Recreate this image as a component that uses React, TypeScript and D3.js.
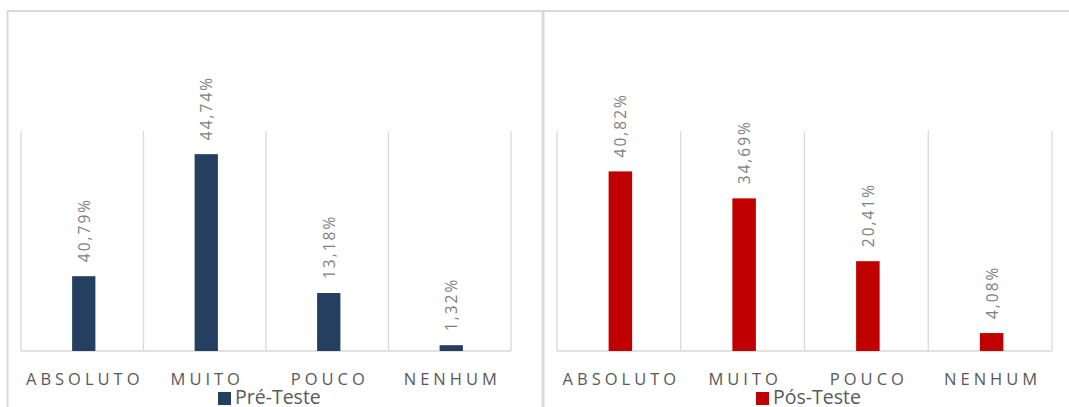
import React from "react";
import * as d3 from "d3";

const categories = ["ABSOLUTO", "MUITO", "POUCO", "NENHUM"];
// Bar heights as drawn in the picture (percent)
const preValues = [17.0, 44.74, 13.18, 1.32];
const preLabels = ["40,79%", "44,74%", "13,18%", "1,32%"];
const posValues = [40.82, 34.69, 20.41, 4.08];
const posLabels = ["40,82%", "34,69%", "20,41%", "4,08%"];
const seriesNames = ["Pré-Teste", "Pós-Teste"];
const seriesColors = ["#243F60", "#C00000"];
const yMax = 50;

const W = 1069;
const H = 407;
const FONT = "'Open Sans', 'Liberation Sans', sans-serif";

type PanelProps = {
  x0: number;
  x1: number;
  frameX: number;
  values: number[];
  labels: string[];
  color: string;
  name: string;
  legendX: number;
};

function Panel({ x0, x1, frameX, values, labels, color, name, legendX }: PanelProps) {
  const x = d3.scaleBand<string>().domain(categories).range([x0, x1]).paddingInner(0).paddingOuter(0);
  const y = d3.scaleLinear().domain([0, yMax]).range([351, 131]);
  const bw = x.bandwidth() * 0.19;
  const edges = [...categories.map((c) => x(c) as number), x1];
  return (
    <g>
      <rect x={frameX} y={11} width={535} height={500} fill="none" stroke="#d9d9d9" strokeWidth={2} />
      {edges.map((e, i) => (
        <line key={i} x1={e} x2={e} y1={y(yMax)} y2={y(0)} stroke="#d9d9d9" strokeWidth={1.3} />
      ))}
      <line x1={x0} x2={x1} y1={y(0)} y2={y(0)} stroke="#d9d9d9" strokeWidth={1.3} />
      {categories.map((c, i) => {
        const cx = (x(c) as number) + x.bandwidth() / 2 + 1.5;
        const top = y(values[i]);
        return (
          <g key={c}>
            <rect x={cx - bw / 2} y={top} width={bw} height={y(0) - top} fill={color} />
            <text
              transform={`translate(${cx},${top - 14}) rotate(-90)`}
              textAnchor="start"
              dominantBaseline="central"
              fontFamily={FONT}
              fontSize={15.5}
              letterSpacing={2}
              fill="#808080"
            >
              {labels[i]}
            </text>
            <text
              x={cx + 1}
              y={385}
              textAnchor="middle"
              fontFamily={FONT}
              fontSize={16.5}
              letterSpacing={4}
              fill="#595959"
            >
              {c}
            </text>
          </g>
        );
      })}
      <rect x={legendX} y={392} width={13} height={13} fill={color} />
      <text x={legendX + 17} y={404} fontFamily={FONT} fontSize={19.5} fill="#595959">
        {name}
      </text>
    </g>
  );
}

export default function App() {
  return (
    <svg
      width={W}
      height={H}
      style={{ position: "absolute", left: 0, top: 0, display: "block", background: "#fff" }}
    >
      <Panel
        x0={21}
        x1={511}
        frameX={7.5}
        values={preValues}
        labels={preLabels}
        color={seriesColors[0]}
        name={seriesNames[0]}
        legendX={218}
      />
      <Panel
        x0={557}
        x1={1052}
        frameX={543.5}
        values={posValues}
        labels={posLabels}
        color={seriesColors[1]}
        name={seriesNames[1]}
        legendX={756}
      />
    </svg>
  );
}
